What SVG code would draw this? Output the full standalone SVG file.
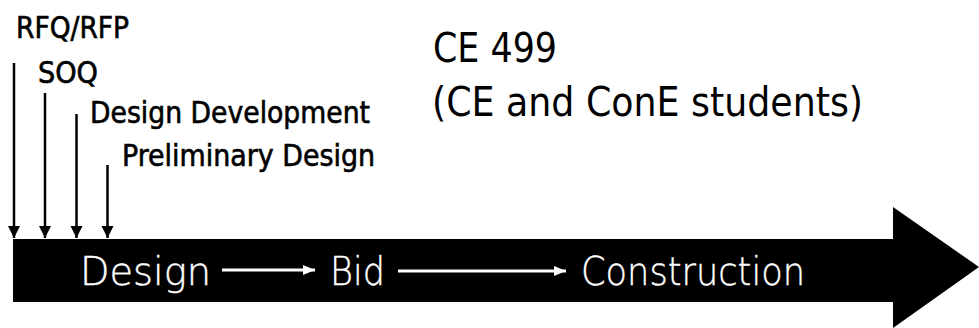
<svg xmlns="http://www.w3.org/2000/svg" width="979" height="328" viewBox="0 0 979 328">
  <style>
    .lbl { font-family: "DejaVu Sans", sans-serif; font-stretch: condensed; font-size: 30px; fill: #000; stroke: #000; stroke-width: 0.6; }
    .title { font-family: "DejaVu Sans", sans-serif; font-stretch: condensed; font-size: 40px; fill: #000; }
    .phase { font-family: "DejaVu Sans", sans-serif; font-stretch: condensed; font-weight: 200; font-size: 39px; fill: #fff; stroke: #fff; stroke-width: 0.4; }
    .drop { stroke: #000; stroke-width: 2.5; fill: none; }
    .flow { stroke: #fff; stroke-width: 3; fill: none; }
  </style>
  <defs>
    <marker id="headDark" markerUnits="userSpaceOnUse" markerWidth="14" markerHeight="14" refX="12" refY="6" orient="auto">
      <path d="M0,0 L12,6 L0,12 Z" fill="#000"/>
    </marker>
    <marker id="headLight" markerUnits="userSpaceOnUse" markerWidth="14" markerHeight="14" refX="12" refY="5" orient="auto">
      <path d="M0,0 L12,5 L0,10 Z" fill="#fff"/>
    </marker>
  </defs>

  <rect width="979" height="328" fill="#fff"/>

  <!-- main timeline arrow -->
  <g id="timeline">
    <path d="M13,239 L893,239 L893,207 L979,267 L893,328 L893,302 L13,302 Z" fill="#000"/>
  </g>

  <!-- milestone drops onto the timeline, and the phase flow inside it -->
  <g id="connectors">
    <line class="drop" x1="14" y1="63" x2="14" y2="238" marker-end="url(#headDark)"/>
    <line class="drop" x1="45" y1="93" x2="45" y2="238" marker-end="url(#headDark)"/>
    <line class="drop" x1="76.5" y1="114" x2="76.5" y2="238" stroke-width="3" marker-end="url(#headDark)"/>
    <line class="drop" x1="107.5" y1="165" x2="107.5" y2="238" marker-end="url(#headDark)"/>
    <line class="flow" x1="222" y1="270" x2="315" y2="270" marker-end="url(#headLight)"/>
    <line class="flow" x1="398" y1="271" x2="566" y2="271" marker-end="url(#headLight)"/>
  </g>

  <g id="rfq"><text class="lbl" x="16" y="38" textLength="113" lengthAdjust="spacingAndGlyphs">RFQ/RFP</text></g>
  <g id="soq"><text class="lbl" x="38" y="83" textLength="60" lengthAdjust="spacingAndGlyphs">SOQ</text></g>
  <g id="design-development"><text class="lbl" x="90" y="123" textLength="280" lengthAdjust="spacingAndGlyphs">Design Development</text></g>
  <g id="preliminary-design"><text class="lbl" x="122" y="166" textLength="253" lengthAdjust="spacingAndGlyphs">Preliminary Design</text></g>

  <g id="course">
    <text class="title" x="433" y="62" textLength="124" lengthAdjust="spacingAndGlyphs">CE 499</text>
    <text class="title" x="432" y="116" textLength="431" lengthAdjust="spacingAndGlyphs">(CE and ConE students)</text>
  </g>

  <g id="phase-design"><text class="phase" x="80" y="285" textLength="131" lengthAdjust="spacingAndGlyphs">Design</text></g>
  <g id="phase-bid"><text class="phase" x="330" y="285" textLength="55" lengthAdjust="spacingAndGlyphs">Bid</text></g>
  <g id="phase-construction"><text class="phase" x="581" y="285" textLength="224" lengthAdjust="spacingAndGlyphs">Construction</text></g>
</svg>
